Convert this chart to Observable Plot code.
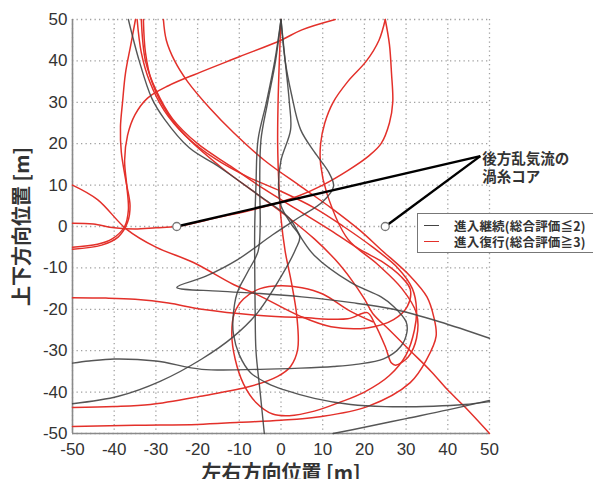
<!DOCTYPE html>
<html>
<head>
<meta charset="utf-8">
<script src="https://cdn.jsdelivr.net/npm/d3@7"></script>
<script src="https://cdn.jsdelivr.net/npm/@observablehq/plot@0.6"></script>
<style>
  html, body { margin: 0; padding: 0; background: #fff; overflow: hidden; }
  #chart { position: relative; width: 593px; height: 479px; }
  #legend {
    position: absolute; left: 417px; top: 213px; width: 200px; height: 40px;
    border: 1px solid #777; background: #fff; box-sizing: border-box;
    font-family: "Noto Sans CJK JP", sans-serif; font-weight: bold; font-size: 12.5px; color: #333;
  }
  #legend .row { position: absolute; left: 0; height: 15px; line-height: 15px; white-space: nowrap; }
  #legend .swatch { position: absolute; left: 6px; top: 7px; width: 15px; height: 0; border-top: 1.6px solid; }
  #legend .label { position: absolute; left: 36px; top: 0; letter-spacing: 0.2px; }
</style>
</head>
<body>
<div id="chart">
  <div id="legend"></div>
</div>
<script>
// Axis ticks (m)
const xTicks = [-50, -40, -30, -20, -10, 0, 10, 20, 30, 40, 50];
const yTicks = [-50, -40, -30, -20, -10, 0, 10, 20, 30, 40, 50];

// Series names and colours
const seriesNames = ["進入継続(総合評価≦2)", "進入復行(総合評価≧3)"];
const seriesColors = ["#444444", "#e3302a"];

// Wake vortex cores and the callout point of their label
const vortexCores = [[-25, 0], [25, 0]];
const calloutPoint = [47.8, 17];
const calloutText = "後方乱気流の\n渦糸コア";

// Flight paths that continued the approach (lateral x, vertical y in m)
const cont1 = [[-36.6,50],[-34,40],[-31,31],[-28,26],[-22,19],[-15,14.5],[-5,7.3],[2,2],[5,-3],[8,-7],[16.7,-13.5],[24,-17],[27,-19.3],[30,-23],[30.2,-25.5],[28.7,-29],[24.6,-32],[18,-33.3],[12.6,-33.8],[4.7,-34.2],[-5,-34.5],[-19,-34.5],[-30,-32.5],[-40,-32],[-46,-32.5],[-50,-33]];
const cont2 = [[-50,-42.8],[-39,-41],[-29,-37.4],[-19,-32],[-11.4,-26.6],[-5.6,-20.8],[0.6,-11.1],[3.5,-5.5],[4.5,-2.5],[2.5,0.5],[0,5],[-0.6,10],[0,16],[2.3,23.4],[2,30],[1,40],[0,50]];
const cont3 = [[0,50],[1,40],[2.5,32],[4.7,23.4],[8,18],[11.5,13],[12.6,9.7],[10,6],[4,2],[-2,-2],[-10.4,-8],[-18,-12],[-25,-14.7],[-15,-15.6],[-5,-16.2],[5,-17],[17,-18.4],[27,-20],[38,-23],[50,-27]];
const cont4 = [[0,50],[-1.5,40],[-3.5,30],[-5.5,21],[-6,10],[-6.3,0],[-6.3,-10],[-6.2,-20],[-6,-30],[-5,-40],[-4,-50]];
const cont5 = [[0,50],[-1.3,40],[-3.2,30],[-4.8,21],[-5.1,10],[-5,0],[-5.5,-6],[-8,-11],[-10.5,-16],[-11.5,-22],[-11.4,-26],[-10,-31],[-7.3,-35.3],[-3,-38],[0.6,-39.4],[8,-41.5],[16.7,-43],[25,-43.5],[36.6,-43.4],[44,-43],[50,-42.3]];
const cont6 = [[12.5,-50],[20,-48.5],[30,-46.4],[40,-44.3],[50,-42]];

// Flight paths that went around (go-around)
const goAround1 = [[13,50],[5,47.5],[0,45],[-10,41],[-20,37],[-27,34],[-32,31],[-35,27],[-36.8,22],[-37.5,16],[-37,10],[-36.6,4],[-37.5,0],[-40.5,-3],[-44,-4.3],[-50,-5]];
const goAround2 = [[-50,0.8],[-45,0.6],[-40,-0.3],[-35,-0.6],[-30,-0.3],[-25,0],[-15,2.2],[-5,4.5],[4,7.3],[10,10],[16,13.5],[21,17],[24,20],[26,25],[26.8,30],[26.5,37],[26,44],[25,50]];
const goAround3 = [[25,50],[23.5,45],[20.5,40],[16,35],[12.5,30],[10.5,25],[9.5,20],[9.5,15],[11,8],[16,-3],[23,-9],[29,-15],[32.5,-21],[32.5,-27],[30.5,-31.5],[27.5,-33.5],[26.5,-33],[25,-29],[22.5,-23.5],[20.7,-20.8],[16,-22.3],[5,-22],[-5,-21.5],[-19,-20],[-27,-18.5],[-35,-17.6],[-42,-17.3],[-50,-17.2]];
const goAround4 = [[-28.2,50],[-27.5,45],[-25.5,40],[-22.4,35],[-17,28.5],[-11.4,22.7],[-4,16],[4.7,9.7],[12,4.5],[19,-1],[24,-5.6],[31,-12],[35,-17],[36.6,-21.7],[37.2,-26.5],[35,-32],[31,-37.7],[20.7,-43.5],[8.8,-46],[0,-46.8],[-10,-47.3],[-20,-47.8],[-35,-48],[-50,-48.3]];
const goAround5 = [[-33.5,50],[-32.5,40],[-30,33],[-26,26],[-20,20],[-12,14.5],[-4,9],[4,4],[12,-1],[19,-5.6],[24.6,-8.7],[28.7,-12],[31,-15.2],[30.3,-19.3],[27,-22.5],[20.7,-24.5],[12,-24.2],[4.7,-21.7],[-5.6,-16.5],[-11.4,-14],[-21,-8.7],[-30,-5],[-37,-0.7],[-44,6.5],[-50,10]];
const goAround6 = [[-33,50],[-32.5,42],[-31,35],[-27,27],[-22,21],[-14,14],[-6,8],[2,2],[8,-3],[13,-8],[17,-13],[20,-17.5],[22,-21],[26,-25],[31,-30],[36,-35],[40,-39.5],[44,-43.5],[50,-50]];
const goAround7 = [[-34.5,50],[-33.5,42],[-31.5,35],[-28,28],[-23,22],[-16,16.5],[-8,12],[0,8.5],[8,4.5],[15,0],[22,-5],[28,-10],[31.5,-15],[32.5,-20],[32,-25],[30,-31],[26,-36],[20,-40],[14,-42.5],[8,-44.6],[2,-45.7],[-2,-45.3],[-6,-42.5],[-9,-38],[-11,-32],[-11.8,-26],[-11.2,-21],[-9,-17.5],[-5,-15],[0,-14.3],[5,-14.8],[10,-16.3],[16.7,-20.5],[22,-23]];
const goAround8 = [[0,50],[-0.4,40],[-0.7,30],[-0.8,20],[-0.5,10],[0,2],[1,-6],[2.5,-13.5],[3.8,-21.7],[4,-29.7],[2.3,-33.8],[-0.8,-36.2],[-7.3,-38.6],[-19.3,-41],[-31.3,-43],[-40,-43.5],[-50,-43.7]];
const goAround9 = [[-34.9,50],[-36,44],[-37.3,37],[-38,30],[-38.5,24],[-38.3,18],[-37.2,11],[-36.2,5],[-36.8,1],[-39,-2.5],[-43,-4.5],[-50,-5.5]];

const continuedTracks = [cont1, cont2, cont3, cont4, cont5, cont6];
const goAroundTracks = [goAround1, goAround2, goAround3, goAround4, goAround5, goAround6, goAround7, goAround8, goAround9];

const toRows = (tracks) => tracks.flatMap((t, i) => t.map(([x, y]) => ({x, y, id: i})));
const continuedRows = toRows(continuedTracks);
const goAroundRows = toRows(goAroundTracks);
const coreRows = vortexCores.map(([x, y]) => ({x, y}));
const calloutRows = coreRows.map(c => ({x1: calloutPoint[0], y1: calloutPoint[1], x2: c.x, y2: c.y}));

const latin = "'Liberation Sans', Arial, 'Noto Sans CJK JP', sans-serif";
const cjk = "'Noto Sans CJK JP', sans-serif";

const plot = Plot.plot({
  width: 593,
  height: 479,
  marginLeft: 72,
  marginRight: 104,
  marginTop: 19,
  marginBottom: 46,
  style: {fontFamily: latin, fontSize: "17px", color: "#333", background: "transparent"},
  x: {domain: [-50, 50], ticks: xTicks, tickSize: 0, tickPadding: 9, label: null, tickFormat: d => String(d)},
  y: {domain: [-50, 50], ticks: yTicks, tickSize: 0, tickPadding: 5, label: null, tickFormat: d => String(d)},
  marks: [
    Plot.gridX(xTicks, {stroke: "#a0a0a0", strokeOpacity: 1, strokeWidth: 1.3, strokeDasharray: "1.3,3.2"}),
    Plot.gridY(yTicks, {stroke: "#a0a0a0", strokeOpacity: 1, strokeWidth: 1.3, strokeDasharray: "1.3,3.2"}),
    Plot.ruleX([-50], {stroke: "#8a8a8a", strokeWidth: 1.6}),
    Plot.ruleY([-50], {stroke: "#8a8a8a", strokeWidth: 1.6}),
    Plot.line(goAroundRows, {x: "x", y: "y", z: "id", stroke: seriesColors[1], strokeWidth: 1.5, curve: "catmull-rom"}),
    Plot.line(continuedRows, {x: "x", y: "y", z: "id", stroke: seriesColors[0], strokeWidth: 1.4, strokeOpacity: 0.9, curve: "catmull-rom"}),
    Plot.link(calloutRows, {x1: "x1", y1: "y1", x2: "x2", y2: "y2", stroke: "#000", strokeWidth: 2.4}),
    Plot.dot(coreRows, {x: "x", y: "y", r: 4, fill: "#fff", stroke: "#777", strokeWidth: 1.3}),
    Plot.text([calloutText], {x: calloutPoint[0], y: calloutPoint[1], text: d => d, textAnchor: "start", lineAnchor: "top", dx: 2, dy: -6, lineHeight: 1.3, fontSize: 14.5, fontWeight: "bold", fontFamily: cjk, fill: "#333"}),
    Plot.text(["上下方向位置 [m]"], {frameAnchor: "left", text: d => d, textAnchor: "middle", lineAnchor: "middle", dx: -50, rotate: -90, fontSize: 20, fontWeight: "bold", fontFamily: cjk, fill: "#333"}),
    Plot.text(["左右方向位置 [m]"], {frameAnchor: "bottom", text: d => d, textAnchor: "middle", lineAnchor: "middle", dy: 40, fontSize: 20, fontWeight: "bold", fontFamily: cjk, fill: "#333"})
  ]
});

const chart = document.getElementById("chart");
chart.insertBefore(plot, chart.firstChild);

// Legend box
const legend = document.getElementById("legend");
seriesNames.forEach((name, i) => {
  const row = document.createElement("div");
  row.className = "row";
  row.style.top = (4 + i * 16) + "px";
  const sw = document.createElement("span");
  sw.className = "swatch";
  sw.style.borderTopColor = seriesColors[i];
  const lab = document.createElement("span");
  lab.className = "label";
  lab.textContent = name;
  row.appendChild(sw);
  row.appendChild(lab);
  legend.appendChild(row);
});
</script>
</body>
</html>
